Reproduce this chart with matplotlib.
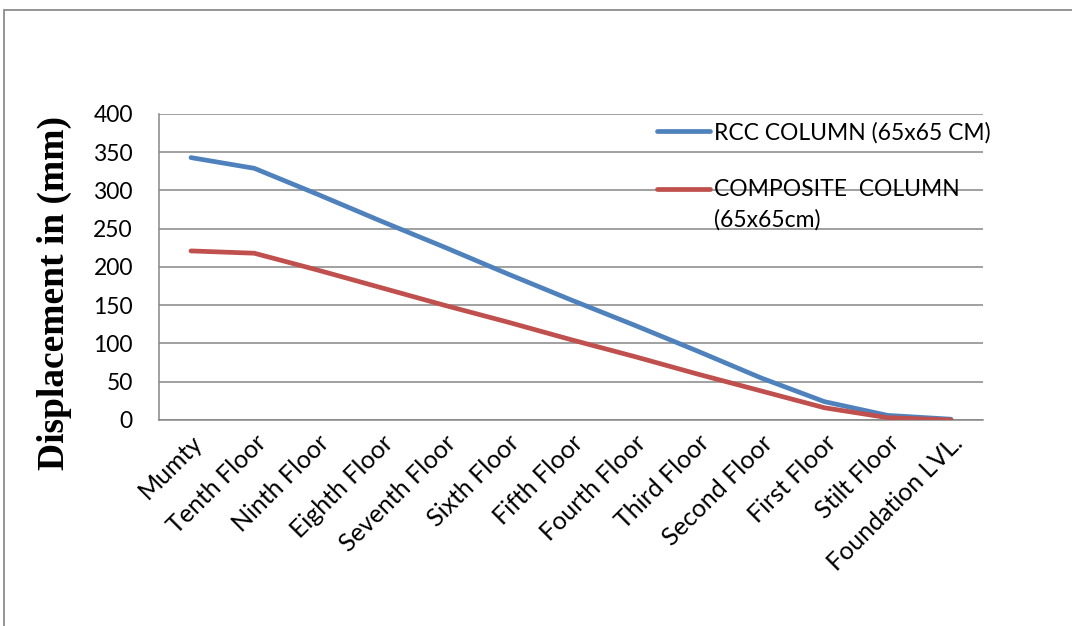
import matplotlib
matplotlib.use("Agg")
import numpy as np
import matplotlib.pyplot as plt
from matplotlib.lines import Line2D
from matplotlib.patches import Rectangle
from matplotlib.legend_handler import HandlerLine2D

floors = ["Mumty", "Tenth Floor", "Ninth Floor", "Eighth Floor", "Seventh Floor",
          "Sixth Floor", "Fifth Floor", "Fourth Floor", "Third Floor", "Second Floor",
          "First Floor", "Stilt Floor", "Foundation LVL."]
rcc = [343, 329, 295, 260, 226, 191, 157, 124, 90, 55, 24, 6, 1]
composite = [221, 218, 196, 173, 150, 128, 105, 83, 60, 38, 16, 3, 0]
yticks = [0, 50, 100, 150, 200, 250, 300, 350, 400]

BLUE = "#4F81BD"
RED = "#C0504D"
GRID = "#868686"
TICK_FONT = "Lato"
FS = 16.5


class HandlerFirstLine(HandlerLine2D):
    """Put the legend line level with the first row of a two-row label."""

    def __init__(self, shift, **kw):
        super().__init__(**kw)
        self.shift = shift

    def create_artists(self, legend, orig_handle, xdescent, ydescent, width,
                       height, fontsize, trans):
        artists = super().create_artists(legend, orig_handle, xdescent, ydescent,
                                         width, height, fontsize, trans)
        for a in artists:
            a.set_ydata(np.asarray(a.get_ydata()) + self.shift)
        return artists


fig = plt.figure(figsize=(10.72, 6.26), dpi=100)
ax = fig.add_axes([0.1486, 0.3291, 0.7681, 0.4888])

# outer chart frame
fig.patches.append(Rectangle((4 / 1072, -0.05), 1.1, 1 - 10 / 626 + 0.05,
                             transform=fig.transFigure, fill=False,
                             edgecolor="#8c8c8c", lw=1.3))

x = range(len(floors))
ax.plot(x, rcc, color=BLUE, lw=3.4, solid_capstyle="round", zorder=3)
ax.plot(x, composite, color=RED, lw=3.4, solid_capstyle="round", zorder=3)

ax.set_xlim(-0.5, len(floors) - 0.5)
ax.set_ylim(0, 400)
ax.set_yticks(yticks)
ax.yaxis.grid(True, color=GRID, lw=1.1)
ax.set_axisbelow(True)
for side in ["top", "right"]:
    ax.spines[side].set_visible(False)
for side in ["left", "bottom"]:
    ax.spines[side].set_color(GRID)
    ax.spines[side].set_linewidth(1.1)

ax.tick_params(axis="both", length=0)
ax.tick_params(axis="y", pad=19)
ax.tick_params(axis="x", pad=8)
ax.set_yticklabels([str(v) for v in yticks], fontsize=FS, family=TICK_FONT)
ax.set_xticks(list(x))
ax.set_xticklabels(floors, rotation=45, ha="right", rotation_mode="anchor",
                   fontsize=18, family=TICK_FONT)

ax.set_ylabel("Displacement in (mm)", family="Liberation Serif", weight="bold",
              fontsize=27)
ax.yaxis.set_label_coords(-0.106, 0.415)

h_rcc = Line2D([], [], color=BLUE, lw=3.4, solid_capstyle="round")
h_comp = Line2D([], [], color=RED, lw=3.4, solid_capstyle="round")
labels = ["RCC COLUMN (65x65 CM)", "COMPOSITE  COLUMN\n(65x65cm)"]
leg = ax.legend([h_rcc, h_comp], labels, loc="upper left",
                bbox_to_anchor=(0.591, 1.012), frameon=False,
                handlelength=2.3, handletextpad=0.15,
                labelspacing=1.57, borderaxespad=0.1,
                handler_map={h_comp: HandlerFirstLine(shift=12)},
                prop={"family": TICK_FONT, "size": FS})
leg.get_texts()[1].set_linespacing(1.5)

fig.savefig("out.png", dpi=100)
